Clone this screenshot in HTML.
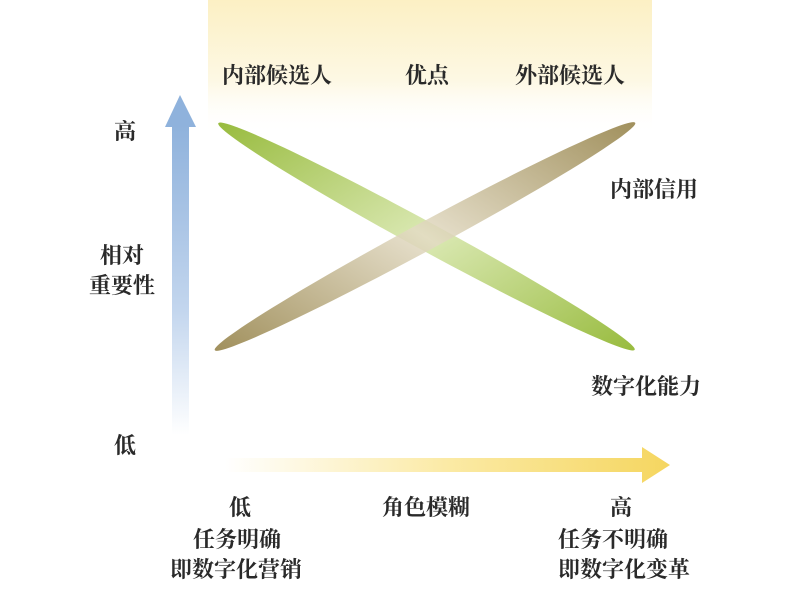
<!DOCTYPE html>
<html><head><meta charset="utf-8">
<style>
body{margin:0;background:#fff;}
svg text{font-family:"Liberation Serif","Noto Serif CJK SC",serif;font-weight:bold;fill:#2a2a2a;font-size:22px;}
</style></head><body>
<svg width="800" height="595" viewBox="0 0 800 595" xmlns="http://www.w3.org/2000/svg">
<defs>
<linearGradient id="top" x1="0" y1="0" x2="0" y2="1">
<stop offset="0" stop-color="#fcf0c4"/><stop offset="0.6" stop-color="#fdf8e4"/><stop offset="1" stop-color="#fff" stop-opacity="0"/>
</linearGradient>
<linearGradient id="blue" x1="0" y1="0" x2="0" y2="1">
<stop offset="0" stop-color="#8fb2dc"/><stop offset="0.6" stop-color="#c3d6ee"/><stop offset="1" stop-color="#fff"/>
</linearGradient>
<linearGradient id="yel" x1="0" y1="0" x2="1" y2="0">
<stop offset="0" stop-color="#fff"/><stop offset="0.5" stop-color="#fbeaa5"/><stop offset="1" stop-color="#f5d660"/>
</linearGradient>
<linearGradient id="grn" gradientUnits="userSpaceOnUse" x1="218" y1="123" x2="635" y2="350">
<stop offset="0" stop-color="#8fb52e"/><stop offset="0.5" stop-color="#dbe9b4"/><stop offset="1" stop-color="#8fb52e"/>
</linearGradient>
<linearGradient id="brn" gradientUnits="userSpaceOnUse" x1="215" y1="350" x2="635" y2="123">
<stop offset="0" stop-color="#85702f"/><stop offset="0.5" stop-color="#e3dbc4"/><stop offset="1" stop-color="#85702f"/>
</linearGradient>
</defs>
<rect x="208" y="0" width="444" height="135" fill="url(#top)"/>
<text x="222" y="83">内部候选人</text>
<text x="405" y="83">优点</text>
<text x="515" y="83">外部候选人</text>
<ellipse cx="426.5" cy="236.5" rx="237" ry="14" fill="url(#grn)" transform="rotate(28.56 426.5 236.5)"/>
<ellipse cx="425" cy="236.5" rx="239" ry="14" fill="url(#brn)" opacity="0.85" transform="rotate(-28.4 425 236.5)"/>
<polygon points="172,125 189,125 189,435 172,435" fill="url(#blue)"/>
<polygon points="165,127 180,95 196,127" fill="#8fb2dc"/>
<polygon points="225,458 642,458 642,447 670,465 642,483 642,472 225,472" fill="url(#yel)"/>
<text x="114" y="139">高</text>
<text x="100" y="263">相对</text>
<text x="89" y="293">重要性</text>
<text x="114" y="453">低</text>
<text x="610" y="197">内部信用</text>
<text x="591" y="394">数字化能力</text>
<text x="229" y="515">低</text>
<text x="382" y="515">角色模糊</text>
<text x="610" y="515">高</text>
<text x="193" y="547">任务明确</text>
<text x="170" y="577">即数字化营销</text>
<text x="558" y="547">任务不明确</text>
<text x="558" y="577">即数字化变革</text>
</svg>
</body></html>
